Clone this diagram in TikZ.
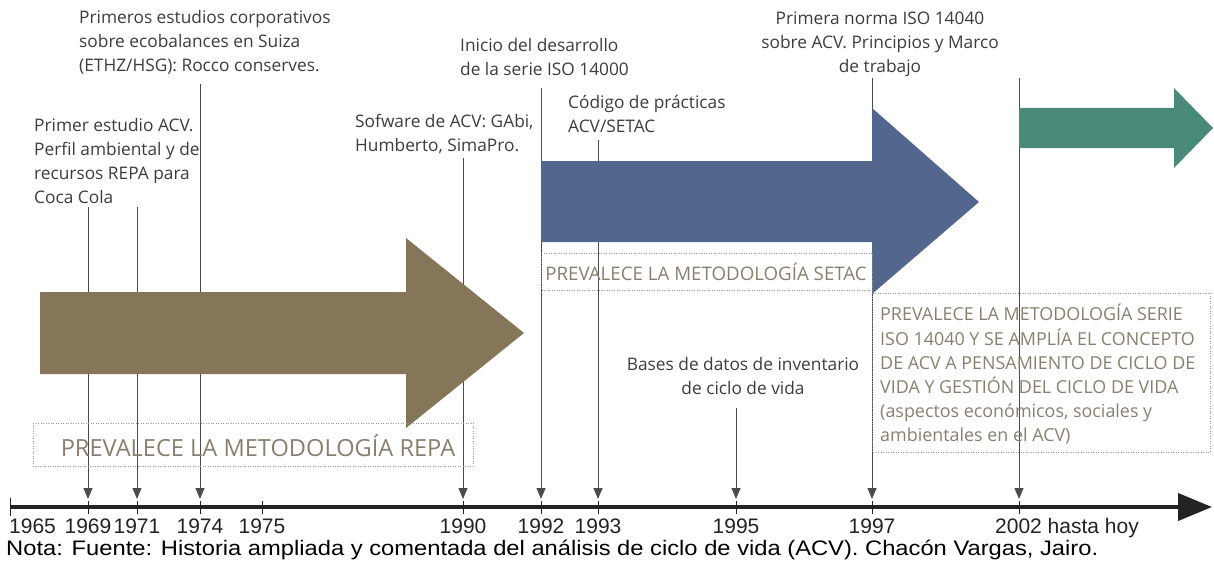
\documentclass[tikz,border=0pt]{standalone}
\usepackage{fontspec}
\setmainfont{Open Sans}
\newfontfamily\arialf{Liberation Sans}
\usetikzlibrary{arrows.meta}
\definecolor{brownA}{RGB}{133,117,89}
\definecolor{blueA}{RGB}{83,102,142}
\definecolor{greenA}{RGB}{74,138,121}
\definecolor{boxtext}{RGB}{138,127,110}
\definecolor{linec}{RGB}{75,75,75}
\definecolor{axisc}{RGB}{35,35,35}
\definecolor{labc}{RGB}{60,60,60}
\definecolor{dotc}{RGB}{150,150,150}
\begin{document}
\begin{tikzpicture}[x=1pt,y=-1pt,
  vline/.style={draw=linec, line width=0.9pt, -{Triangle[width=9pt,length=11pt]}},
  lab/.style={text=labc, inner sep=0pt, font=\fontsize{17.3}{24}\selectfont, align=left},
  labc/.style={lab, align=center},
  yearlab/.style={inner sep=0pt, text=axisc, font=\arialf\fontsize{21}{21}\selectfont},
  tick/.style={draw=axisc, line width=0.8pt},
  dotbox/.style={draw=dotc, line width=0.8pt, dash pattern=on 0.9pt off 1.6pt},
  boxlab/.style={text=boxtext, inner sep=0pt}
]
\useasboundingbox (0,0) rectangle (1214,567);

% coordinates: line tops and line ends on the axis
\foreach \n/\x/\t in {69/88/207, 71/137/207, 74/200/84, 90/463/158, 92/541/88, 93/598/140, 95/736/408, 97/872/78, 02/1019/78}{
  \coordinate (s\n) at (\x,\t);
  \coordinate (e\n) at (\x,499);
}

% vertical connectors (behind the big arrows)
\foreach \n in {69,71,74,90,92,93,95,97,02}{
  \draw[vline] (s\n) -- (e\n);
}

% big arrows
\fill[brownA] (40,292) -- (406,292) -- (406,238) -- (524,333) -- (406,428) -- (406,374) -- (40,374) -- cycle;
\fill[blueA] (541,161) -- (872,161) -- (872,108) -- (979,202) -- (872,294) -- (872,242) -- (541,242) -- cycle;
\fill[greenA] (1019,108) -- (1174,108) -- (1174,88) -- (1213,128) -- (1174,168) -- (1174,148) -- (1019,148) -- cycle;

% dotted boxes
\draw[dotbox] (33,423) rectangle (473,466);
\draw[dotbox] (541,253) rectangle (872,290);
\draw[dotbox] (872,293) rectangle (1210,452);

\node[boxlab, font=\fontsize{23.6}{24}\selectfont] (repa) at (258,446) {PREVALECE LA METODOLOGÍA REPA};
\node[boxlab, font=\fontsize{18.7}{24}\selectfont] (setac) at (706,272) {PREVALECE LA METODOLOGÍA SETAC};
\node[boxlab, anchor=north west, align=left, font=\fontsize{17.9}{24.2}\selectfont] (iso) at (880,304) {PREVALECE LA METODOLOGÍA SERIE\\ISO 14040 Y SE AMPLÍA EL CONCEPTO\\DE ACV A PENSAMIENTO DE CICLO DE\\VIDA Y GESTIÓN DEL CICLO DE VIDA\\(aspectos económicos, sociales y\\ambientales en el ACV)};

% event labels
\node[lab, anchor=north west] (l74) at (79,10) {Primeros estudios corporativos\\sobre ecobalances en Suiza\\(ETHZ/HSG): Rocco conserves.};
\node[lab, anchor=north west] (l69) at (34,118) {Primer estudio ACV.\\Perfil ambiental y de\\recursos REPA para\\Coca Cola};
\node[lab, anchor=north west] (l90) at (355,114) {Sofware de ACV: GAbi,\\Humberto, SimaPro.};
\node[lab, anchor=north west] (l92) at (460,38) {Inicio del desarrollo\\de la serie ISO 14000};
\node[lab, anchor=north west] (l93) at (568,95) {Código de prácticas\\ACV/SETAC};
\node[labc, anchor=north] (l97) at (880,12) {Primera norma ISO 14040\\sobre ACV. Principios y Marco\\de trabajo};
\node[labc, anchor=north] (l95) at (743,357) {Bases de datos de inventario\\de ciclo de vida};

% axis
\coordinate (axL) at (10,507);
\coordinate (axR) at (1212,507);
\draw[axisc, line width=4pt, -{Triangle[width=27pt,length=34pt]}] (axL) -- (axR);
\draw[tick] (10,498) -- (10,516);
\foreach \x in {88,137,200,262,463,541,598,736,872,1019}{
  \draw[tick] (\x,501) -- (\x,514);
}

% years
\node[yearlab, anchor=base west] (y65) at (9,533) {1965};
\node[yearlab, anchor=base] (y69) at (88,533) {1969};
\node[yearlab, anchor=base] (y71) at (137,533) {1971};
\node[yearlab, anchor=base] (y74) at (200,533) {1974};
\node[yearlab, anchor=base] (y75) at (262,533) {1975};
\node[yearlab, anchor=base] (y90) at (463,533) {1990};
\node[yearlab, anchor=base] (y92) at (541,533) {1992};
\node[yearlab, anchor=base] (y93) at (598,533) {1993};
\node[yearlab, anchor=base] (y95) at (736,533) {1995};
\node[yearlab, anchor=base] (y97) at (872,533) {1997};
\node[yearlab, anchor=base west] (y02) at (995,533) {2002 hasta hoy};

% note
\node[yearlab, text=black, anchor=base west] (nota) at (6,555) {\scalebox{1.13}[1]{Nota: Fuente: Historia ampliada y comentada del análisis de ciclo de vida (ACV). Chacón Vargas, Jairo.}};
\end{tikzpicture}
\end{document}
